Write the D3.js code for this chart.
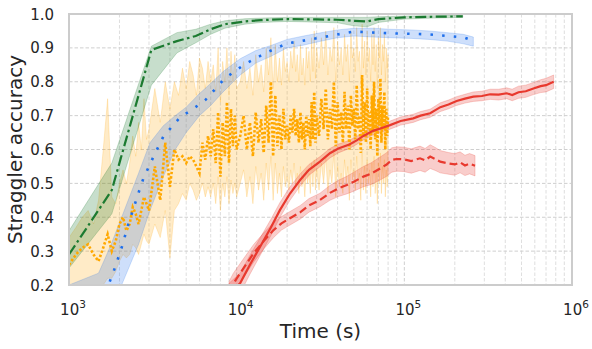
<!DOCTYPE html>
<html>
<head>
<meta charset="utf-8">
<script src="https://cdn.jsdelivr.net/npm/d3@7"></script>
<style>
  body { margin: 0; background: #fff; }
  text { font-family: "DejaVu Sans", sans-serif; fill: #262626; }
</style>
</head>
<body>
<svg width="592" height="349"></svg>
<script>
// x ticks (log seconds) and y ticks
const xTickValues = [1e3, 1e4, 1e5, 1e6];
const yTickValues = [0.2, 0.3, 0.4, 0.5, 0.6, 0.7, 0.8, 0.9, 1.0];

// green dash-dot series
const greenTime = [1000, 1800, 3100, 4400, 5700, 7000, 8500, 11200, 14000, 20000, 30000, 40000, 50000, 60000, 70000, 100000, 150000, 223000];
const greenMean = [0.29, 0.48, 0.894, 0.92, 0.935, 0.955, 0.97, 0.978, 0.982, 0.985, 0.984, 0.983, 0.98, 0.978, 0.985, 0.99, 0.992, 0.993];
const greenLow  = [0.25, 0.41, 0.79, 0.885, 0.915, 0.94, 0.958, 0.97, 0.975, 0.978, 0.976, 0.974, 0.965, 0.962, 0.975, 0.985, 0.988, 0.99];
const greenHigh = [0.36, 0.56, 0.905, 0.945, 0.955, 0.97, 0.98, 0.986, 0.988, 0.99, 0.99, 0.99, 0.99, 0.99, 0.992, 0.994, 0.995, 0.996];

// blue dotted series
const blueTime = [1750, 1860, 2060, 2260, 2630, 2780, 3200, 3650, 4600, 5500, 6500, 8500, 11200, 15000, 20000, 23000, 32000, 50000, 82000, 140000, 225000, 258000];
const blueMean = [0.21, 0.245, 0.31, 0.38, 0.48, 0.515, 0.58, 0.638, 0.695, 0.72, 0.746, 0.81, 0.852, 0.886, 0.913, 0.918, 0.931, 0.948, 0.943, 0.94, 0.931, 0.921];
const blueBandTime = [1000, 1500, 1750, 2060, 2600, 3040, 3650, 4300, 5000, 6000, 7000, 8300, 10500, 13000, 16000, 20000, 25000, 32000, 40000, 50000, 65000, 82000, 110000, 140000, 180000, 225000, 258000];
const blueHigh = [0.2, 0.235, 0.31, 0.4, 0.53, 0.62, 0.67, 0.7, 0.725, 0.765, 0.795, 0.83, 0.868, 0.892, 0.907, 0.925, 0.935, 0.945, 0.953, 0.958, 0.958, 0.955, 0.953, 0.95, 0.945, 0.94, 0.932];
const blueLow  = [0.15, 0.15, 0.17, 0.2, 0.32, 0.42, 0.52, 0.6, 0.65, 0.7, 0.73, 0.77, 0.82, 0.855, 0.875, 0.9, 0.908, 0.92, 0.93, 0.935, 0.932, 0.93, 0.928, 0.925, 0.92, 0.912, 0.905];

// orange noisy dotted series
const orangeTime = [
  1000, 1100, 1200, 1300, 1400, 1500, 1600, 1700, 1800, 1900,
  2000, 2100, 2200, 2300, 2400, 2500, 2600, 2700, 2800, 2900, 3000,
  3250, 3500, 3750, 4000, 4250, 4500, 4750, 5000, 5250, 5500,
  5750, 6000, 6250, 6500, 6750, 7000, 7250, 7500, 7750, 8000,
  8250, 8500, 8750, 9000, 9250, 9500, 9750, 10000,
  10500, 11000, 11500, 12000, 12500, 13000, 13500, 14000, 14500, 15000,
  15500, 16000, 16500, 17000, 17500, 18000, 18500, 19000, 19500, 20000,
  20500, 21000, 21500, 22000, 22500, 23000, 23500, 24000, 24500, 25000,
  25500, 26000, 26500, 27000, 27500, 28000, 28500, 29000, 29500, 30000,
  31000, 32000, 33000, 34000, 35000, 36000, 37000, 38000, 39000, 40000,
  41000, 42000, 43000, 44000, 45000, 46000, 47000, 48000, 49000, 50000,
  51000, 52000, 53000, 54000, 55000, 56000, 57000, 58000, 59000, 60000,
  61000, 62000, 63000, 64000, 65000, 66000, 67000, 68000, 69000, 70000,
  71000, 72000, 73000, 74000, 75000, 76000, 77000, 78000, 79000, 80000
];
const orangeMean = [
  0.26, 0.29, 0.31, 0.32, 0.29, 0.27, 0.31, 0.35, 0.30, 0.33,
  0.38, 0.40, 0.36, 0.38, 0.43, 0.41, 0.38, 0.42, 0.46, 0.44, 0.42,
  0.55, 0.45, 0.62, 0.49, 0.60, 0.57, 0.58, 0.56, 0.58, 0.57,
  0.55, 0.53, 0.62, 0.57, 0.64, 0.58, 0.66, 0.56, 0.71, 0.52,
  0.68, 0.58, 0.74, 0.56, 0.72, 0.61, 0.70, 0.60,
  0.64, 0.70, 0.60, 0.68, 0.58, 0.71, 0.62, 0.69, 0.59, 0.73,
  0.62, 0.80, 0.58, 0.76, 0.61, 0.70, 0.60, 0.72, 0.63, 0.67,
  0.62, 0.70, 0.65, 0.72, 0.64, 0.69, 0.62, 0.71, 0.63, 0.68,
  0.60, 0.70, 0.64, 0.69, 0.61, 0.74, 0.63, 0.77, 0.62, 0.70,
  0.64, 0.75, 0.66, 0.78, 0.63, 0.72, 0.66, 0.80, 0.61, 0.74,
  0.65, 0.71, 0.62, 0.77, 0.66, 0.73, 0.60, 0.76, 0.67, 0.72,
  0.63, 0.79, 0.66, 0.70, 0.59, 0.82, 0.64, 0.74, 0.62, 0.78,
  0.66, 0.71, 0.60, 0.76, 0.65, 0.80, 0.63, 0.72, 0.58, 0.75,
  0.67, 0.81, 0.62, 0.73, 0.66, 0.77, 0.60, 0.72, 0.64, 0.70
];
const orangeHigh = [
  0.34, 0.37, 0.40, 0.42, 0.38, 0.45, 0.60, 0.75, 0.46, 0.44,
  0.50, 0.54, 0.50, 0.56, 0.64, 0.58, 0.68, 0.60, 0.75, 0.63, 0.66,
  0.78, 0.68, 0.80, 0.72, 0.80, 0.76, 0.84, 0.78, 0.86, 0.82,
  0.76, 0.87, 0.84, 0.78, 0.86, 0.80, 0.85, 0.77, 0.90, 0.74,
  0.86, 0.80, 0.90, 0.76, 0.89, 0.80, 0.88, 0.78,
  0.80, 0.86, 0.78, 0.84, 0.76, 0.88, 0.80, 0.85, 0.77, 0.90,
  0.82, 0.93, 0.78, 0.91, 0.80, 0.87, 0.79, 0.90, 0.83, 0.86,
  0.80, 0.89, 0.84, 0.92, 0.83, 0.88, 0.80, 0.91, 0.82, 0.87,
  0.79, 0.90, 0.84, 0.89, 0.80, 0.93, 0.83, 0.95, 0.81, 0.90,
  0.84, 0.93, 0.85, 0.95, 0.82, 0.90, 0.86, 0.96, 0.80, 0.92,
  0.85, 0.90, 0.82, 0.94, 0.86, 0.91, 0.80, 0.95, 0.87, 0.90,
  0.83, 0.96, 0.86, 0.89, 0.79, 0.97, 0.84, 0.92, 0.82, 0.95,
  0.86, 0.90, 0.80, 0.94, 0.85, 0.96, 0.83, 0.91, 0.78, 0.93,
  0.87, 0.96, 0.82, 0.91, 0.86, 0.94, 0.80, 0.90, 0.84, 0.88
];
const orangeLow = [
  0.18, 0.19, 0.19, 0.18, 0.18, 0.19, 0.20, 0.22, 0.22, 0.24,
  0.27, 0.29, 0.28, 0.29, 0.32, 0.31, 0.29, 0.32, 0.35, 0.33, 0.32,
  0.38, 0.34, 0.42, 0.28, 0.42, 0.44, 0.47, 0.45, 0.50, 0.48,
  0.45, 0.47, 0.50, 0.46, 0.49, 0.46, 0.50, 0.44, 0.52, 0.42,
  0.50, 0.46, 0.52, 0.44, 0.51, 0.47, 0.50, 0.46,
  0.50, 0.54, 0.46, 0.52, 0.44, 0.55, 0.48, 0.53, 0.45, 0.56,
  0.48, 0.58, 0.45, 0.56, 0.47, 0.53, 0.46, 0.55, 0.49, 0.52,
  0.48, 0.54, 0.50, 0.56, 0.49, 0.53, 0.47, 0.55, 0.49, 0.52,
  0.46, 0.54, 0.50, 0.53, 0.47, 0.56, 0.49, 0.57, 0.48, 0.54,
  0.48, 0.56, 0.50, 0.58, 0.47, 0.54, 0.50, 0.59, 0.46, 0.55,
  0.49, 0.53, 0.47, 0.57, 0.50, 0.55, 0.45, 0.57, 0.51, 0.54,
  0.48, 0.58, 0.50, 0.53, 0.45, 0.60, 0.48, 0.55, 0.47, 0.57,
  0.50, 0.54, 0.46, 0.56, 0.49, 0.58, 0.47, 0.54, 0.44, 0.56,
  0.50, 0.59, 0.47, 0.55, 0.50, 0.57, 0.46, 0.54, 0.49, 0.53
];

// red solid series
const redSolidTime = [9000, 10480, 12000, 13800, 16000, 18100, 20800, 23900, 27000, 31400, 36000, 40400, 47000, 52000, 57000, 65000, 72000, 82200, 95000, 113000, 125000, 142600, 164000, 183400, 205000, 230000, 258000, 290000, 325000, 365000, 408000, 440000, 480000, 530000, 589000, 650000, 700000, 777000];
const redSolidMean = [0.175, 0.205, 0.26, 0.313, 0.37, 0.421, 0.47, 0.51, 0.54, 0.564, 0.589, 0.603, 0.615, 0.627, 0.64, 0.655, 0.662, 0.672, 0.684, 0.692, 0.70, 0.707, 0.725, 0.733, 0.743, 0.75, 0.756, 0.758, 0.763, 0.762, 0.766, 0.761, 0.769, 0.772, 0.78, 0.787, 0.79, 0.80];
const redSolidErr  = [0.03, 0.03, 0.028, 0.026, 0.024, 0.022, 0.02, 0.018, 0.016, 0.015, 0.014, 0.013, 0.012, 0.012, 0.012, 0.012, 0.012, 0.012, 0.012, 0.012, 0.012, 0.012, 0.013, 0.013, 0.013, 0.013, 0.014, 0.014, 0.015, 0.016, 0.016, 0.017, 0.018, 0.018, 0.018, 0.019, 0.02, 0.02];

// red dashed series
const redDashTime = [9000, 9560, 11000, 12600, 14500, 16600, 18500, 20800, 24000, 27000, 31400, 36000, 40400, 45400, 50000, 57000, 63000, 71800, 78000, 84200, 90000, 98800, 110000, 124000, 133000, 142600, 153000, 163600, 183400, 200000, 215000, 230000, 245000, 264000];
const redDashMean = [0.18, 0.205, 0.25, 0.293, 0.33, 0.362, 0.382, 0.397, 0.415, 0.435, 0.451, 0.472, 0.485, 0.495, 0.505, 0.52, 0.528, 0.544, 0.555, 0.569, 0.572, 0.571, 0.566, 0.574, 0.568, 0.579, 0.572, 0.564, 0.559, 0.556, 0.562, 0.553, 0.558, 0.552];
const redDashErr  = [0.03, 0.03, 0.028, 0.026, 0.024, 0.022, 0.02, 0.02, 0.02, 0.02, 0.02, 0.022, 0.024, 0.026, 0.028, 0.03, 0.032, 0.034, 0.035, 0.036, 0.036, 0.036, 0.036, 0.036, 0.035, 0.035, 0.034, 0.033, 0.032, 0.032, 0.031, 0.03, 0.03, 0.03];

function rows(t, m, lo, hi) {
  return t.map(function (d, i) {
    return { t: d, m: m ? m[i] : null, lo: lo ? lo[i] : null, hi: hi ? hi[i] : null };
  });
}

function main() {
  let svg = d3.select("svg"),
    left = 69,
    right = 572,
    top = 14,
    bottom = 285;

  let xScale = d3.scaleLog().domain([1e3, 1e6]).range([left, right]),
    yScale = d3.scaleLinear().domain([0.2, 1.0]).range([bottom, top]);

  svg.append("rect").attr("width", 592).attr("height", 349).attr("fill", "#fff");

  // grid
  let grid = svg.append("g");
  let minor = xScale.ticks().filter(function (d) {
    return xTickValues.indexOf(d) < 0;
  });
  grid.selectAll(".minor")
    .data(minor)
    .enter()
    .append("line")
    .attr("x1", function (d) { return xScale(d); })
    .attr("x2", function (d) { return xScale(d); })
    .attr("y1", top)
    .attr("y2", bottom)
    .attr("stroke", "#d6d6d6")
    .attr("stroke-width", 0.8)
    .attr("stroke-dasharray", "3.5,2");
  grid.selectAll(".xmajor")
    .data(xTickValues)
    .enter()
    .append("line")
    .attr("x1", function (d) { return xScale(d); })
    .attr("x2", function (d) { return xScale(d); })
    .attr("y1", top)
    .attr("y2", bottom)
    .attr("stroke", "#cfcfcf")
    .attr("stroke-width", 1)
    .attr("stroke-dasharray", "3.5,2");
  grid.selectAll(".ymajor")
    .data(yTickValues)
    .enter()
    .append("line")
    .attr("x1", left)
    .attr("x2", right)
    .attr("y1", function (d) { return yScale(d); })
    .attr("y2", function (d) { return yScale(d); })
    .attr("stroke", "#cfcfcf")
    .attr("stroke-width", 1)
    .attr("stroke-dasharray", "3.5,2");

  svg.append("clipPath")
    .attr("id", "plot")
    .append("rect")
    .attr("x", left)
    .attr("y", top)
    .attr("width", right - left)
    .attr("height", bottom - top);

  let g = svg.append("g").attr("clip-path", "url(#plot)");

  let area = d3.area()
    .x(function (d) { return xScale(d.t); })
    .y0(function (d) { return yScale(d.lo); })
    .y1(function (d) { return yScale(d.hi); });
  let line = d3.line()
    .x(function (d) { return xScale(d.t); })
    .y(function (d) { return yScale(d.m); });

  function band(data, color, op) {
    g.append("path")
      .datum(data)
      .attr("d", area)
      .attr("fill", color)
      .attr("fill-opacity", op)
      .attr("stroke", color)
      .attr("stroke-opacity", op * 0.9)
      .attr("stroke-width", 1);
  }
  function curve(data, color, width, dash) {
    g.append("path")
      .datum(data)
      .attr("d", line)
      .attr("fill", "none")
      .attr("stroke", color)
      .attr("stroke-width", width)
      .attr("stroke-dasharray", dash);
  }

  let orange = rows(orangeTime, orangeMean, orangeLow, orangeHigh);
  let green = rows(greenTime, greenMean, greenLow, greenHigh);
  let blueBand = rows(blueBandTime, null, blueLow, blueHigh);
  let blue = rows(blueTime, blueMean);
  let redSolid = redSolidTime.map(function (d, i) {
    return { t: d, m: redSolidMean[i], lo: redSolidMean[i] - redSolidErr[i], hi: redSolidMean[i] + redSolidErr[i] };
  });
  let redDash = redDashTime.map(function (d, i) {
    return { t: d, m: redDashMean[i], lo: redDashMean[i] - redDashErr[i], hi: redDashMean[i] + redDashErr[i] };
  });

  band(orange, "#ffa500", 0.22);
  band(green, "#1e7d32", 0.25);
  band(blueBand, "#1f6feb", 0.22);
  band(redSolid, "#e8392e", 0.25);
  band(redDash, "#e8392e", 0.25);

  curve(orange, "#ffa800", 2.6, "2.4,2");
  curve(green, "#1b7a30", 2.2, "11,3.5,2.5,3.5");
  curve(blue, "#1f6feb", 2.6, "2.5,9.2");
  curve(redSolid, "#e8392e", 2.2, null);
  curve(redDash, "#e8392e", 2.2, "8,4");

  // frame
  svg.append("rect")
    .attr("x", left)
    .attr("y", top)
    .attr("width", right - left)
    .attr("height", bottom - top)
    .attr("fill", "none")
    .attr("stroke", "#cccccc")
    .attr("stroke-width", 2);

  // y tick labels
  svg.selectAll(".ylab")
    .data(yTickValues)
    .enter()
    .append("text")
    .attr("x", 54)
    .attr("y", function (d) { return yScale(d) + 5.5; })
    .attr("text-anchor", "end")
    .attr("font-size", "15px")
    .text(function (d) { return d3.format(".1f")(d); });

  // x tick labels with exponent
  let xl = svg.selectAll(".xlab")
    .data(xTickValues)
    .enter()
    .append("text")
    .attr("x", function (d) { return xScale(d) + 4; })
    .attr("y", 315)
    .attr("text-anchor", "middle")
    .attr("font-size", "15px");
  xl.append("tspan").text("10");
  xl.append("tspan")
    .attr("dy", -7)
    .attr("font-size", "10.5px")
    .text(function (d) { return Math.round(Math.log10(d)); });

  svg.append("text")
    .attr("x", (left + right) / 2)
    .attr("y", 338)
    .attr("text-anchor", "middle")
    .attr("font-size", "20px")
    .text("Time (s)");

  svg.append("text")
    .attr("transform", "translate(22," + (top + bottom) / 2 + ") rotate(-90)")
    .attr("text-anchor", "middle")
    .attr("font-size", "20px")
    .text("Straggler accuracy");
}

main();
</script>
</body>
</html>
